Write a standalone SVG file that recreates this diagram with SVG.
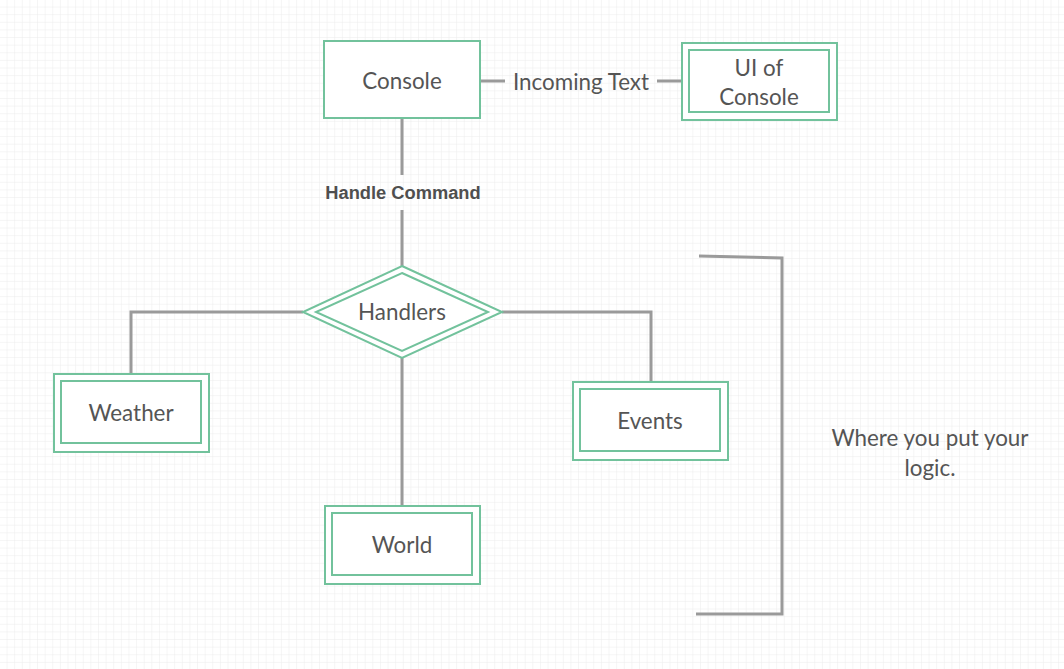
<svg xmlns="http://www.w3.org/2000/svg" width="1064" height="669" viewBox="0 0 1064 669">
<defs>
<pattern id="grid" width="7.62" height="7.62" patternUnits="userSpaceOnUse" x="-0.1" y="-0.1">
<path d="M7.62 0V7.62M0 7.62H7.62" fill="none" stroke="#ececec" stroke-width="1"/>
</pattern>
</defs>
<style>
.box{fill:#fff;stroke:#72c29c;stroke-width:2}
.inner{fill:none;stroke:#72c29c;stroke-width:2}
.lbl{font-family:Lato,"Liberation Sans",sans-serif;font-size:22.4px;fill:#555;text-anchor:middle;dominant-baseline:central}
.conn{fill:none;stroke:#9a9a9a;stroke-width:3}
.bold{font-family:"Liberation Sans",Arial,sans-serif;font-weight:bold;font-size:18.3px;fill:#4f4f4f;text-anchor:middle;dominant-baseline:central}
</style>
<rect width="1064" height="669" fill="#fff"/>
<rect width="1064" height="669" fill="url(#grid)"/>
<g id="connectors">
<path class="conn" d="M480 81H505M657 81H682"/>
<text class="lbl" x="581" y="81">Incoming Text</text>
<path class="conn" d="M402 118V175M402 210V266"/>
<text class="bold" x="403" y="192">Handle Command</text>
<path class="conn" d="M303 312H131V374"/>
<path class="conn" d="M502 312H651V382"/>
<path class="conn" d="M402 358V506"/>
<path class="conn" d="M699 256L782 258V614H696"/>
</g>
<g id="console">
<rect class="box" x="324" y="41" width="156" height="77"/>
<text class="lbl" x="402" y="80">Console</text>
</g>
<g id="ui-console">
<rect class="box" x="682" y="43" width="155" height="77"/>
<rect class="inner" x="689" y="50" width="140" height="62"/>
<text class="lbl" x="759" y="67">UI of</text>
<text class="lbl" x="759" y="96">Console</text>
</g>
<g id="handlers">
<polygon class="box" points="402,266 502,312 402,358 303,312"/>
<polygon class="inner" points="402,273 488,312 402,351 316,312"/>
<text class="lbl" x="402" y="311">Handlers</text>
</g>
<g id="weather">
<rect class="box" x="54" y="374" width="155" height="78"/>
<rect class="inner" x="61" y="381" width="140" height="62"/>
<text class="lbl" x="131" y="412">Weather</text>
</g>
<g id="events">
<rect class="box" x="573" y="382" width="155" height="78"/>
<rect class="inner" x="580" y="389" width="140" height="62"/>
<text class="lbl" x="650" y="420">Events</text>
</g>
<g id="world">
<rect class="box" x="325" y="506" width="155" height="78"/>
<rect class="inner" x="332" y="513" width="140" height="62"/>
<text class="lbl" x="402" y="544">World</text>
</g>
<g id="note">
<text class="lbl" x="930" y="437">Where you put your</text>
<text class="lbl" x="930" y="467">logic.</text>
</g>
</svg>
